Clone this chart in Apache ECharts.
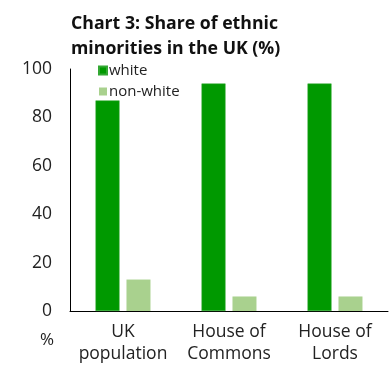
<!DOCTYPE html>
<html>
<head>
<meta charset="utf-8">
<script src="https://cdn.jsdelivr.net/npm/echarts@6/dist/echarts.min.js"></script>
<style>
  html, body { margin: 0; padding: 0; background: #fff; }
  #chart { width: 390px; height: 365px; }
</style>
</head>
<body>
<div id="chart"></div>
<script>
var categories = ['UK\npopulation', 'House of\nCommons', 'House of\nLords']
var whiteData = [87, 94, 94]
var nonWhiteData = [13, 6, 6]
var yTicks = [0, 20, 40, 60, 80, 100]

var font = 'Open Sans'
var chart = echarts.init(document.getElementById('chart'))

chart.setOption({
  animation: false,
  textStyle: { fontFamily: font },
  title: {
    text: 'Chart 3: Share of ethnic\nminorities in the UK (%)',
    left: 66,
    top: 6,
    textStyle: {
      fontFamily: font,
      fontSize: 17.7,
      fontWeight: 'bold',
      color: '#111',
      lineHeight: 25
    }
  },
  legend: {
    orient: 'vertical',
    left: 93,
    top: 58,
    itemWidth: 8,
    itemHeight: 8,
    itemGap: 6,
    icon: 'rect',
    data: ['white', 'non-white'],
    textStyle: { fontFamily: font, fontSize: 15, color: '#222', padding: [0, 0, 0, -3] }
  },
  grid: {
    left: 70,
    right: 2,
    top: 69,
    bottom: 54,
    containLabel: false
  },
  graphic: [{
    type: 'text',
    left: 40,
    top: 332,
    style: { text: '%', font: '17px "Open Sans"', fill: '#222' }
  }],
  xAxis: {
    type: 'category',
    data: categories,
    axisLine: { lineStyle: { color: '#000', width: 1 } },
    axisTick: { show: false },
    axisLabel: {
      interval: 0,
      fontFamily: font,
      fontSize: 17.5,
      lineHeight: 22,
      color: '#222',
      margin: 10
    }
  },
  yAxis: {
    type: 'value',
    min: yTicks[0],
    max: yTicks[yTicks.length - 1],
    interval: 20,
    axisLine: { show: true, lineStyle: { color: '#000', width: 1 } },
    axisTick: { show: false },
    splitLine: { show: false },
    axisLabel: {
      fontFamily: font,
      fontSize: 17.5,
      color: '#222',
      margin: 18
    }
  },
  series: [{
    name: 'white',
    type: 'bar',
    data: whiteData,
    barWidth: 24,
    barGap: '29%',
    itemStyle: { color: '#009900', borderColor: '#33a833', borderWidth: 0.5 }
  }, {
    name: 'non-white',
    type: 'bar',
    data: nonWhiteData,
    barWidth: 24,
    itemStyle: { color: '#a9d18e' }
  }]
})
</script>
</body>
</html>
